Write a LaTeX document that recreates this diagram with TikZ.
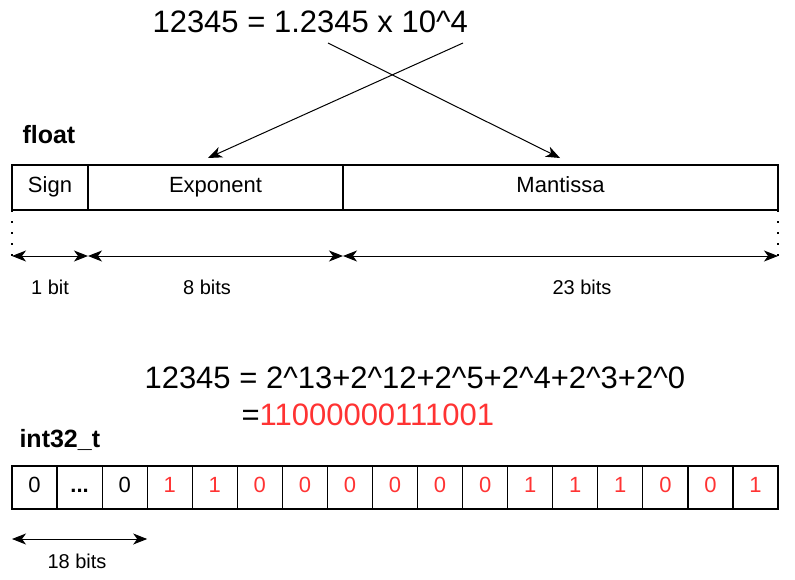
\documentclass[tikz,border=0pt]{standalone}
\usepackage{fontspec}
\setmainfont{Liberation Sans}
\usetikzlibrary{positioning,arrows.meta}
\definecolor{bitred}{HTML}{FF3333}

\begin{document}
\begin{tikzpicture}[x=1pt,y=-1pt,
  >={Stealth[length=7pt,width=5.5pt,inset=2pt,scale=2]},
  field/.style={draw,line width=1.2pt,outer sep=0pt,inner sep=0pt,
    minimum height=45pt,text height=15pt,text depth=6pt,
    font=\fontsize{22}{22}\selectfont},
  cell/.style={field,minimum width=45.06pt,minimum height=43pt},
  title/.style={anchor=west,font=\fontsize{25}{25}\selectfont\bfseries},
  big/.style={anchor=west,font=\fontsize{31}{31}\selectfont},
  link/.style={->,line width=1pt},
  dim/.style={<->,line width=1pt},
  dimlabel/.style={font=\fontsize{20}{20}\selectfont},
  dots/.style={line width=2pt,dash pattern=on 2pt off 9pt}]
  \useasboundingbox (0,0) rectangle (795,579);

  % float layout
  \node[big] (sci) at (149,22) {12345 = 1.2345 x 10\textasciicircum 4};
  \node[title] (float) at (19,135) {float};
  \node[field,minimum width=76pt,anchor=north west] (sign) at (12,165) {Sign};
  \node[field,minimum width=255pt,right=0pt of sign] (exponent) {Exponent};
  \node[field,minimum width=435pt,right=0pt of exponent] (mantissa) {Mantissa};

  \coordinate (sciA) at (328,43);
  \coordinate (sciB) at (463,43);
  \coordinate (expIn) at (208,158);
  \coordinate (manIn) at (560,158);
  \draw[link] (sciB) -- (expIn);
  \draw[link] (sciA) -- (manIn);

  % widths
  \coordinate (d0) at ([yshift=-46pt]sign.south west);
  \coordinate (d1) at ([yshift=-46pt]sign.south east);
  \coordinate (d2) at ([yshift=-46pt]exponent.south east);
  \coordinate (d3) at ([yshift=-46pt]mantissa.south east);
  \draw[dots] (sign.south west) -- (d0);
  \draw[dots] (mantissa.south east) -- (d3);
  \draw[dim] (d0) -- (d1);
  \draw[dim] (d1) -- (d2);
  \draw[dim] (d2) -- (d3);
  \node[dimlabel] (w1) at (50,287) {1 bit};
  \node[dimlabel] (w8) at (207,287) {8 bits};
  \node[dimlabel] (w23) at (582,287) {23 bits};

  % int32_t layout
  \node[big] (pow) at (141,378) {12345 = 2\textasciicircum 13+2\textasciicircum 12+2\textasciicircum 5+2\textasciicircum 4+2\textasciicircum 3+2\textasciicircum 0};
  \node[big] (bin) at (238,415) {=\textcolor{bitred}{11000000111001}};
  \node[title] (int) at (16,440) {int32\_t};
  \foreach \b/\c [count=\i from 0] in {0/black,\textbf{.\kern0pt.\kern0pt.}/black,0/black,
      1/bitred,1/bitred,0/bitred,0/bitred,0/bitred,0/bitred,0/bitred,0/bitred,
      1/bitred,1/bitred,1/bitred,0/bitred,0/bitred,1/bitred}
    \node[cell,text=\c] (c\i) at ({34.53+45.06*\i},487.5) {\b};

  \coordinate (z0) at ([yshift=-30pt]c0.south west);
  \coordinate (z1) at ([yshift=-30pt]c2.south east);
  \draw[dim] (z0) -- (z1);
  \node[dimlabel] (w18) at (77,561) {18 bits};
\end{tikzpicture}
\end{document}
